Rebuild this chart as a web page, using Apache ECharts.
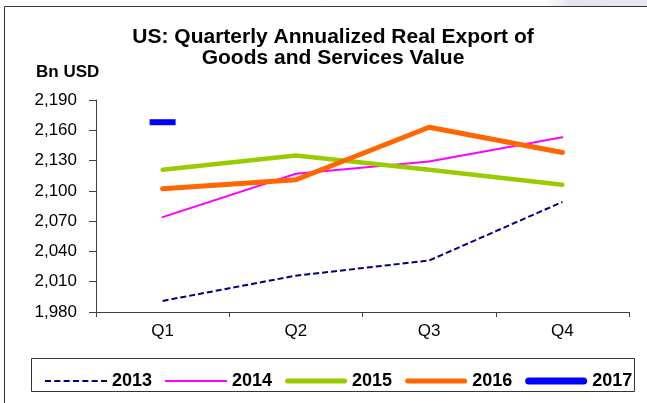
<!DOCTYPE html>
<html>
<head>
<meta charset="utf-8">
<script src="https://cdn.jsdelivr.net/npm/echarts@6/dist/echarts.min.js"></script>
<style>
  html, body { margin: 0; padding: 0; background: #ffffff; }
  #chart { width: 647px; height: 403px; }
</style>
</head>
<body>
<div id="chart"></div>
<script>
// Quarterly annualized real exports of goods and services, bn USD
const quarters = ['Q1', 'Q2', 'Q3', 'Q4'];
const years = ['2013', '2014', '2015', '2016', '2017'];
const values2013 = [1991, 2016, 2031, 2089];
const values2014 = [2074, 2117, 2129, 2153];
const values2015 = [2121, 2135, 2121, 2106];
const values2016 = [2102, 2111, 2163, 2138];
const values2017 = [2168, null, null, null];
const yTicks = { min: 1980, max: 2190, step: 30 };

const FONT = '"Liberation Sans", Arial, sans-serif';
const AXIS_COLOR = '#404040';

const chart = echarts.init(document.getElementById('chart'), null, { renderer: 'canvas' });

function lineSeries(name, data, color, width, type) {
  return {
    name: name,
    type: 'line',
    data: data,
    symbol: 'none',
    smooth: false,
    lineStyle: { color: color, width: width, type: type || 'solid', cap: 'round', join: 'round' },
    itemStyle: { color: color },
    emphasis: { disabled: true }
  };
}

const s2013 = lineSeries(years[0], values2013, '#000080', 2, [6, 3]);
s2013.lineStyle.cap = 'butt';
const s2014 = lineSeries(years[1], values2014, '#FF00FF', 2);
const s2015 = lineSeries(years[2], values2015, '#99CC00', 4.5);
const s2016 = lineSeries(years[3], values2016, '#FF6600', 5);
// 2017 only has its first quarter so far: shown as a flat dash marker
const s2017 = lineSeries(years[4], values2017.map(function (v) {
  return v == null ? null : { value: v, symbol: 'rect', symbolSize: [26, 6] };
}), '#0000FF', 7);
s2017.lineStyle.cap = 'butt';

// Legend keys: 62px wide line samples drawn as filled paths
function solidKey(h) {
  return 'path://M0,0H62V' + h + 'H0Z';
}
function roundKey(h) {
  const r = h / 2;
  return 'path://M' + r + ',0H' + (62 - r) + 'A' + r + ',' + r + ',0,0,1,' + (62 - r) + ',' + h +
    'H' + r + 'A' + r + ',' + r + ',0,0,1,' + r + ',0Z';
}
function dashedKey(h) {
  let p = 'path://';
  for (let i = 0; i < 7; i++) {
    const x = i * 56 / 6;
    p += 'M' + x.toFixed(2) + ',0H' + (x + 6).toFixed(2) + 'V' + h + 'H' + x.toFixed(2) + 'Z';
  }
  return p;
}
const legendIcons = [dashedKey(2), solidKey(2), roundKey(5), roundKey(5), roundKey(7)];

const option = {
  animation: false,
  backgroundColor: '#ffffff',
  textStyle: { fontFamily: FONT },
  title: {
    text: 'US: Quarterly Annualized Real Export of\nGoods and Services Value',
    left: 328,
    textAlign: 'center',
    top: 22,
    textStyle: { fontFamily: FONT, fontSize: 21, fontWeight: 'bold', color: '#000', lineHeight: 21 }
  },
  grid: { left: 96, right: 18, top: 100, bottom: 91, containLabel: false },
  legend: {
    left: 40,
    top: 367,
    itemWidth: 62,
    itemHeight: 16,
    itemGap: 13,
    selectedMode: false,
    itemStyle: { borderWidth: 0 },
    data: years.map(function (y, i) { return { name: y, icon: legendIcons[i] }; }),
    textStyle: { fontFamily: FONT, fontSize: 18, fontWeight: 'bold', color: '#000' }
  },
  xAxis: {
    type: 'category',
    data: quarters,
    boundaryGap: true,
    axisLine: { lineStyle: { color: AXIS_COLOR, width: 1 } },
    axisTick: { show: true, inside: false, length: 5, alignWithLabel: false, lineStyle: { color: AXIS_COLOR } },
    axisLabel: { margin: 11, fontSize: 17, color: '#000', fontFamily: FONT },
    splitLine: { show: false }
  },
  yAxis: {
    type: 'value',
    min: yTicks.min,
    max: yTicks.max,
    interval: yTicks.step,
    axisLine: { show: true, lineStyle: { color: AXIS_COLOR, width: 1 } },
    axisTick: { show: true, inside: false, length: 7, lineStyle: { color: AXIS_COLOR } },
    axisLabel: {
      margin: 19,
      fontSize: 17,
      color: '#000',
      fontFamily: FONT,
      formatter: function (v) { return v.toLocaleString('en-US'); }
    },
    splitLine: { show: false }
  },
  graphic: [
    // soft shaded corner along the top edge
    {
      type: 'rect', left: 545, top: 0, z: -1,
      shape: { width: 102, height: 6 },
      style: { fill: new echarts.graphic.LinearGradient(0, 0, 1, 0, [
        { offset: 0, color: '#ffffff' }, { offset: 0.25, color: '#e4e4ee' }, { offset: 1, color: '#e8e8f2' }
      ]) }
    },
    // outer frame (top and left edges)
    { type: 'line', shape: { x1: 4.5, y1: 6.5, x2: 647, y2: 6.5 }, style: { stroke: '#333', lineWidth: 1 } },
    { type: 'line', shape: { x1: 4.5, y1: 6.5, x2: 4.5, y2: 403 }, style: { stroke: '#333', lineWidth: 1 } },
    // legend box
    { type: 'rect', shape: { x: 31.5, y: 358.5, width: 603, height: 33 }, style: { fill: null, stroke: '#333', lineWidth: 1 }, z: 0 },
    // unit label
    {
      type: 'text', left: 36, top: 64,
      style: { text: 'Bn USD', font: 'bold 17px ' + FONT, fill: '#000' }
    }
  ],
  series: [s2013, s2014, s2015, s2016, s2017]
};

chart.setOption(option);
</script>
</body>
</html>
